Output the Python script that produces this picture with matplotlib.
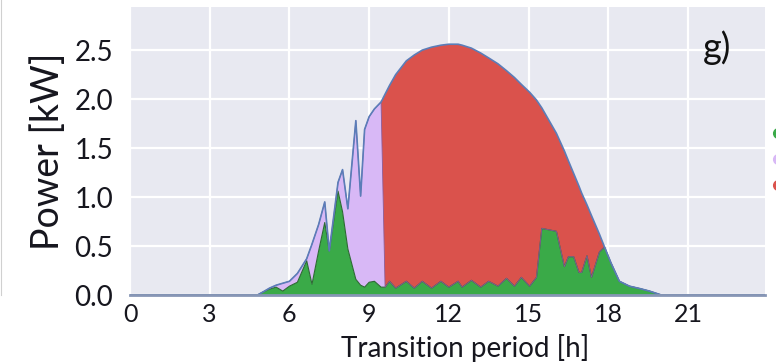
import numpy as np
import matplotlib
matplotlib.use("Agg")
import matplotlib.pyplot as plt
from matplotlib.lines import Line2D

# Hourly power profile (kW)
hours = [0, 4.8, 5.0, 5.25, 5.5, 5.75, 6.0, 6.3, 6.65, 6.85, 7.1, 7.33, 7.5, 7.83,
         8.0, 8.2, 8.5, 8.68, 8.83, 9.0, 9.2, 9.45, 9.6, 9.77, 10.0, 10.4, 10.7,
         11.0, 11.35, 11.7, 12.0, 12.35, 12.5, 12.85, 13.2, 13.5, 13.85, 14.17,
         14.47, 14.73, 15.04, 15.3, 15.5, 16.05, 16.35, 16.5, 16.7, 16.9, 17.0,
         17.2, 17.37, 17.67, 17.86, 18.1, 18.42, 18.8, 19.2, 19.55, 20.0, 24]

pv_total = [0, 0, 0.03, 0.07, 0.10, 0.12, 0.14, 0.22, 0.37, 0.52, 0.72, 0.95, 0.45, 1.15,
            1.28, 0.88, 1.78, 1.01, 1.69, 1.82, 1.90, 1.97, 2.05, 2.14, 2.25, 2.39, 2.45,
            2.50, 2.53, 2.55, 2.56, 2.56, 2.55, 2.52, 2.47, 2.42, 2.36, 2.29,
            2.22, 2.15, 2.07, 1.99, 1.91, 1.65, 1.47, 1.37, 1.24, 1.11, 1.04,
            0.92, 0.81, 0.62, 0.49, 0.33, 0.14, 0.09, 0.065, 0.04, 0.0, 0]

self_use = [0, 0, 0.03, 0.06, 0.08, 0.04, 0.09, 0.13, 0.35, 0.11, 0.45, 0.74, 0.45, 1.06,
            0.85, 0.47, 0.16, 0.10, 0.08, 0.13, 0.14, 0.08, 0.08, 0.14, 0.07, 0.14, 0.07,
            0.14, 0.07, 0.14, 0.08, 0.14, 0.08, 0.15, 0.08, 0.14, 0.09, 0.17,
            0.09, 0.18, 0.09, 0.18, 0.68, 0.65, 0.29, 0.39, 0.39, 0.23, 0.23,
            0.40, 0.18, 0.44, 0.49, 0.33, 0.14, 0.09, 0.065, 0.04, 0.0, 0]

battery_end = 9.5   # surplus goes to the battery until it is full

hours = np.array(hours)
pv_total = np.array(pv_total)
self_use = np.array(self_use)
surplus = pv_total - self_use
battery = np.where(hours < battery_end, surplus, 0)
export = np.where(hours > battery_end, surplus, 0)

green = "#3aaa48"
purple = "#d8b8f6"
red = "#da524c"
line_blue = "#5b7db8"
text_col = "#16161e"

plt.rcParams["font.family"] = ["Lato", "DejaVu Sans"]

fig = plt.figure(figsize=(7.76, 3.63), dpi=100)
ax = fig.add_axes([130 / 776, 1 - 295 / 363, 635 / 776, 288 / 363])
ax.set_facecolor("#e8e9f1")

ax.stackplot(hours, self_use, battery, export, colors=[green, purple, red],
             linewidth=0, zorder=2)
ax.plot(hours, self_use, color="#2c6a33", lw=0.8, zorder=3)
ax.plot(hours, self_use + battery, color="#8a5a9a", lw=0.6, zorder=3)
ax.plot(hours, pv_total, color=line_blue, lw=1.2, zorder=4)

ax.set_xlim(0, 23.9)
ax.set_ylim(0, 2.94)
ax.set_xticks(np.arange(0, 22, 3))
ax.set_yticks(np.arange(0, 2.6, 0.5))
ax.yaxis.set_major_formatter(matplotlib.ticker.FormatStrFormatter("%.1f"))
ax.grid(True, color="white", lw=1.6, zorder=1)
ax.set_axisbelow(True)

for side in ["top", "right", "left"]:
    ax.spines[side].set_visible(False)
ax.spines["bottom"].set_color("#8796b5")
ax.spines["bottom"].set_linewidth(2)
ax.spines["bottom"].set_zorder(5)

ax.tick_params(axis="both", length=0, colors=text_col)
ax.tick_params(axis="y", labelsize=20, pad=12)
ax.tick_params(axis="x", labelsize=18, pad=6)

ax.set_xlabel("Transition period [h]", fontsize=20, color=text_col)
ax.xaxis.set_label_coords(0.528, -0.135)
ax.set_ylabel("Power [kW]", fontsize=27, color=text_col, labelpad=6)

ax.text(0.924, 0.86, "g)", transform=ax.transAxes, fontsize=26, ha="center",
        va="center", color="#111111")

# Legend markers sitting at the right border
for y, c in [(133, green), (159, purple), (185, red)]:
    fig.add_artist(Line2D([778 / 776], [1 - y / 363], marker="o", markersize=7,
                          color=c, transform=fig.transFigure, clip_on=False))

fig.add_artist(Line2D([0.001, 0.001], [1 - 295 / 363, 1.0], color="#d0d0d0",
                      lw=0.8, transform=fig.transFigure))

fig.savefig("out.png", dpi=100)
